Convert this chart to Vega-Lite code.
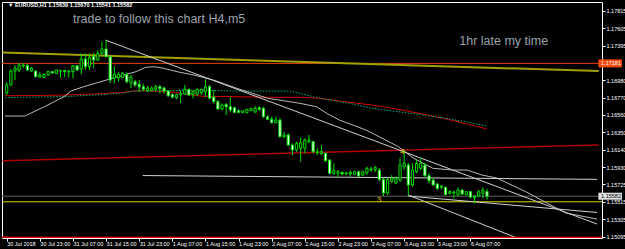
{
  "$schema": "https://vega.github.io/schema/vega-lite/v6.json",
  "width": 600,
  "height": 236,
  "autosize": "none",
  "padding": {"left": 2, "top": 2, "right": 23, "bottom": 11},
  "background": "black",
  "config": {
    "view": {"stroke": "#ffffff", "strokeWidth": 1, "fill": "black"},
    "axis": {"labelColor": "#ffffff", "tickColor": "#ffffff", "labelFont": "Liberation Sans", "labelFontSize": 5.5, "tickSize": 3, "domain": false, "grid": false, "labelOverlap": false, "labelBound": false, "labelFlush": false, "titleOpacity": 0}
  },
  "datasets": {
    "candles": [
      {"i":0,"o":1.16824,"h":1.16957,"l":1.16800,"c":1.16921},
      {"i":1,"o":1.16921,"h":1.17113,"l":1.16909,"c":1.17089},
      {"i":2,"o":1.17089,"h":1.17161,"l":1.16981,"c":1.17125},
      {"i":3,"o":1.17101,"h":1.17185,"l":1.17077,"c":1.17161},
      {"i":4,"o":1.17149,"h":1.17185,"l":1.17125,"c":1.17161},
      {"i":5,"o":1.17153,"h":1.17173,"l":1.17089,"c":1.17101},
      {"i":6,"o":1.17089,"h":1.17137,"l":1.17077,"c":1.17125},
      {"i":7,"o":1.17089,"h":1.17101,"l":1.17017,"c":1.17020},
      {"i":8,"o":1.17017,"h":1.17077,"l":1.17005,"c":1.17041},
      {"i":9,"o":1.17011,"h":1.17065,"l":1.17005,"c":1.17047},
      {"i":10,"o":1.17041,"h":1.17089,"l":1.17029,"c":1.17083},
      {"i":11,"o":1.17083,"h":1.17089,"l":1.17059,"c":1.17065},
      {"i":12,"o":1.17059,"h":1.17107,"l":1.17053,"c":1.17101},
      {"i":13,"o":1.17089,"h":1.17101,"l":1.17008,"c":1.17095},
      {"i":14,"o":1.17095,"h":1.17101,"l":1.17017,"c":1.17083},
      {"i":15,"o":1.17077,"h":1.17095,"l":1.17008,"c":1.17089},
      {"i":16,"o":1.17081,"h":1.17161,"l":1.17001,"c":1.17153},
      {"i":17,"o":1.17153,"h":1.17161,"l":1.17089,"c":1.17101},
      {"i":18,"o":1.17113,"h":1.17302,"l":1.17049,"c":1.17234},
      {"i":19,"o":1.17234,"h":1.17302,"l":1.17101,"c":1.17141},
      {"i":20,"o":1.17141,"h":1.17302,"l":1.17101,"c":1.17254},
      {"i":21,"o":1.17266,"h":1.17302,"l":1.17122,"c":1.17222},
      {"i":22,"o":1.17222,"h":1.17342,"l":1.17210,"c":1.17302},
      {"i":23,"o":1.17302,"h":1.17442,"l":1.17282,"c":1.17354},
      {"i":24,"o":1.17354,"h":1.17462,"l":1.17258,"c":1.17261},
      {"i":25,"o":1.17261,"h":1.17270,"l":1.16941,"c":1.16981},
      {"i":26,"o":1.17001,"h":1.17141,"l":1.16941,"c":1.17049},
      {"i":27,"o":1.17008,"h":1.17073,"l":1.16960,"c":1.17049},
      {"i":28,"o":1.17008,"h":1.17077,"l":1.17005,"c":1.17061},
      {"i":29,"o":1.17049,"h":1.17073,"l":1.16941,"c":1.16960},
      {"i":30,"o":1.16945,"h":1.17041,"l":1.16884,"c":1.17017},
      {"i":31,"o":1.16960,"h":1.16981,"l":1.16900,"c":1.16921},
      {"i":32,"o":1.16929,"h":1.16981,"l":1.16840,"c":1.16900},
      {"i":33,"o":1.16900,"h":1.16933,"l":1.16852,"c":1.16869},
      {"i":34,"o":1.16852,"h":1.16909,"l":1.16840,"c":1.16884},
      {"i":35,"o":1.16852,"h":1.16903,"l":1.16848,"c":1.16884},
      {"i":36,"o":1.16869,"h":1.16921,"l":1.16840,"c":1.16900},
      {"i":37,"o":1.16900,"h":1.16921,"l":1.16817,"c":1.16877},
      {"i":38,"o":1.16884,"h":1.16900,"l":1.16817,"c":1.16848},
      {"i":39,"o":1.16848,"h":1.16860,"l":1.16776,"c":1.16792},
      {"i":40,"o":1.16805,"h":1.16817,"l":1.16761,"c":1.16773},
      {"i":41,"o":1.16768,"h":1.16817,"l":1.16748,"c":1.16805},
      {"i":42,"o":1.16805,"h":1.16860,"l":1.16704,"c":1.16817},
      {"i":43,"o":1.16812,"h":1.16921,"l":1.16800,"c":1.16869},
      {"i":44,"o":1.16869,"h":1.16877,"l":1.16788,"c":1.16800},
      {"i":45,"o":1.16805,"h":1.16860,"l":1.16761,"c":1.16840},
      {"i":46,"o":1.16812,"h":1.16877,"l":1.16788,"c":1.16869},
      {"i":47,"o":1.16828,"h":1.16877,"l":1.16800,"c":1.16869},
      {"i":48,"o":1.16840,"h":1.16989,"l":1.16776,"c":1.16900},
      {"i":49,"o":1.16900,"h":1.16921,"l":1.16748,"c":1.16761},
      {"i":50,"o":1.16776,"h":1.16860,"l":1.16700,"c":1.16720},
      {"i":51,"o":1.16720,"h":1.16740,"l":1.16620,"c":1.16632},
      {"i":52,"o":1.16632,"h":1.16700,"l":1.16620,"c":1.16680},
      {"i":53,"o":1.16688,"h":1.16700,"l":1.16559,"c":1.16659},
      {"i":54,"o":1.16659,"h":1.16773,"l":1.16595,"c":1.16620},
      {"i":55,"o":1.16647,"h":1.16659,"l":1.16580,"c":1.16592},
      {"i":56,"o":1.16611,"h":1.16628,"l":1.16580,"c":1.16592},
      {"i":57,"o":1.16587,"h":1.16620,"l":1.16583,"c":1.16611},
      {"i":58,"o":1.16587,"h":1.16632,"l":1.16583,"c":1.16628},
      {"i":59,"o":1.16611,"h":1.16644,"l":1.16608,"c":1.16640},
      {"i":60,"o":1.16595,"h":1.16668,"l":1.16589,"c":1.16640},
      {"i":61,"o":1.16647,"h":1.16668,"l":1.16608,"c":1.16628},
      {"i":62,"o":1.16640,"h":1.16659,"l":1.16523,"c":1.16539},
      {"i":63,"o":1.16539,"h":1.16559,"l":1.16499,"c":1.16508},
      {"i":64,"o":1.16508,"h":1.16539,"l":1.16460,"c":1.16467},
      {"i":65,"o":1.16467,"h":1.16539,"l":1.16460,"c":1.16499},
      {"i":66,"o":1.16499,"h":1.16520,"l":1.16291,"c":1.16298},
      {"i":67,"o":1.16298,"h":1.16358,"l":1.16279,"c":1.16319},
      {"i":68,"o":1.16319,"h":1.16339,"l":1.16186,"c":1.16198},
      {"i":69,"o":1.16198,"h":1.16219,"l":1.16078,"c":1.16138},
      {"i":70,"o":1.16138,"h":1.16238,"l":1.16118,"c":1.16219},
      {"i":71,"o":1.16159,"h":1.16291,"l":1.15997,"c":1.16226},
      {"i":72,"o":1.16159,"h":1.16279,"l":1.16098,"c":1.16258},
      {"i":73,"o":1.16238,"h":1.16319,"l":1.16219,"c":1.16258},
      {"i":74,"o":1.16238,"h":1.16250,"l":1.16098,"c":1.16118},
      {"i":75,"o":1.16106,"h":1.16159,"l":1.16078,"c":1.16118},
      {"i":76,"o":1.16098,"h":1.16198,"l":1.16078,"c":1.16118},
      {"i":77,"o":1.16098,"h":1.16106,"l":1.15997,"c":1.16009},
      {"i":78,"o":1.16018,"h":1.16026,"l":1.15849,"c":1.15858},
      {"i":79,"o":1.15858,"h":1.15978,"l":1.15837,"c":1.15889},
      {"i":80,"o":1.15858,"h":1.15897,"l":1.15809,"c":1.15877},
      {"i":81,"o":1.15870,"h":1.15877,"l":1.15837,"c":1.15849},
      {"i":82,"o":1.15849,"h":1.15873,"l":1.15837,"c":1.15865},
      {"i":83,"o":1.15849,"h":1.15889,"l":1.15817,"c":1.15870},
      {"i":84,"o":1.15845,"h":1.15889,"l":1.15837,"c":1.15877},
      {"i":85,"o":1.15877,"h":1.15889,"l":1.15817,"c":1.15825},
      {"i":86,"o":1.15837,"h":1.15889,"l":1.15825,"c":1.15877},
      {"i":87,"o":1.15865,"h":1.15937,"l":1.15837,"c":1.15918},
      {"i":88,"o":1.15897,"h":1.15937,"l":1.15877,"c":1.15909},
      {"i":89,"o":1.15903,"h":1.15945,"l":1.15873,"c":1.15927},
      {"i":90,"o":1.15897,"h":1.15921,"l":1.15761,"c":1.15785},
      {"i":91,"o":1.15785,"h":1.15801,"l":1.15584,"c":1.15620},
      {"i":92,"o":1.15620,"h":1.15801,"l":1.15596,"c":1.15785},
      {"i":93,"o":1.15761,"h":1.15837,"l":1.15741,"c":1.15801},
      {"i":94,"o":1.15741,"h":1.15817,"l":1.15729,"c":1.15801},
      {"i":95,"o":1.15777,"h":1.16038,"l":1.15753,"c":1.15958},
      {"i":96,"o":1.15937,"h":1.16138,"l":1.15897,"c":1.15982},
      {"i":97,"o":1.15958,"h":1.15982,"l":1.15596,"c":1.15717},
      {"i":98,"o":1.15717,"h":1.15978,"l":1.15696,"c":1.15897},
      {"i":99,"o":1.15877,"h":1.16026,"l":1.15858,"c":1.15978},
      {"i":100,"o":1.15918,"h":1.16038,"l":1.15897,"c":1.15978},
      {"i":101,"o":1.15958,"h":1.15978,"l":1.15817,"c":1.15829},
      {"i":102,"o":1.15829,"h":1.15858,"l":1.15737,"c":1.15768},
      {"i":103,"o":1.15777,"h":1.15797,"l":1.15708,"c":1.15717},
      {"i":104,"o":1.15729,"h":1.15744,"l":1.15657,"c":1.15677},
      {"i":105,"o":1.15689,"h":1.15717,"l":1.15665,"c":1.15705},
      {"i":106,"o":1.15689,"h":1.15696,"l":1.15596,"c":1.15601},
      {"i":107,"o":1.15617,"h":1.15657,"l":1.15601,"c":1.15636},
      {"i":108,"o":1.15620,"h":1.15648,"l":1.15557,"c":1.15633},
      {"i":109,"o":1.15596,"h":1.15689,"l":1.15588,"c":1.15657},
      {"i":110,"o":1.15657,"h":1.15665,"l":1.15596,"c":1.15608},
      {"i":111,"o":1.15601,"h":1.15644,"l":1.15596,"c":1.15636},
      {"i":112,"o":1.15636,"h":1.15644,"l":1.15557,"c":1.15572},
      {"i":113,"o":1.15565,"h":1.15596,"l":1.15496,"c":1.15584},
      {"i":114,"o":1.15584,"h":1.15657,"l":1.15572,"c":1.15636},
      {"i":115,"o":1.15617,"h":1.15689,"l":1.15557,"c":1.15657},
      {"i":116,"o":1.15639,"h":1.15670,"l":1.15541,"c":1.15582}
    ],
    "lines": [
      {"s":"olive","i":-1,"p":1.17313},{"s":"olive","i":143,"p":1.17088},
      {"s":"darkred","i":-1,"p":1.16010},{"s":"darkred","i":143,"p":1.16198},
      {"s":"red","i":-0.4,"p":1.16792},{"s":"red","i":6.72,"p":1.16794},{"s":"red","i":13.85,"p":1.16800},{"s":"red","i":20.97,"p":1.16812},{"s":"red","i":28.10,"p":1.16830},{"s":"red","i":30.47,"p":1.16848},{"s":"red","i":32.85,"p":1.16852},{"s":"red","i":38.79,"p":1.16840},{"s":"red","i":42.35,"p":1.16821},{"s":"red","i":47.10,"p":1.16785},{"s":"red","i":54.94,"p":1.16780},{"s":"red","i":63.74,"p":1.16773},{"s":"red","i":70.86,"p":1.16773},{"s":"red","i":75.61,"p":1.16761},{"s":"red","i":81.55,"p":1.16720},{"s":"red","i":88.19,"p":1.16680},{"s":"red","i":94.61,"p":1.16628},{"s":"red","i":104.11,"p":1.16535},{"s":"red","i":111.24,"p":1.16451},{"s":"red","i":115.99,"p":1.16391},
      {"s":"green","i":-0.4,"p":1.16768},{"s":"green","i":6.72,"p":1.16776},{"s":"green","i":13.85,"p":1.16780},{"s":"green","i":20.97,"p":1.16800},{"s":"green","i":28.10,"p":1.16824},{"s":"green","i":30.47,"p":1.16848},{"s":"green","i":37.60,"p":1.16852},{"s":"green","i":47.10,"p":1.16857},{"s":"green","i":56.60,"p":1.16848},{"s":"green","i":68.48,"p":1.16848},{"s":"green","i":75.61,"p":1.16761},{"s":"green","i":82.73,"p":1.16700},{"s":"green","i":88.19,"p":1.16640},{"s":"green","i":94.61,"p":1.16599},{"s":"green","i":104.11,"p":1.16535},{"s":"green","i":111.24,"p":1.16475},{"s":"green","i":115.99,"p":1.16427},
      {"s":"gray","i":-0.4,"p":1.16547},{"s":"gray","i":4.35,"p":1.16547},{"s":"gray","i":9.10,"p":1.16659},{"s":"gray","i":13.85,"p":1.16780},{"s":"gray","i":15.51,"p":1.16848},{"s":"gray","i":18.60,"p":1.16900},{"s":"gray","i":25.72,"p":1.17005},{"s":"gray","i":31.19,"p":1.17081},{"s":"gray","i":33.56,"p":1.17134},{"s":"gray","i":35.70,"p":1.17141},{"s":"gray","i":37.60,"p":1.17125},{"s":"gray","i":41.16,"p":1.17081},{"s":"gray","i":45.20,"p":1.17041},{"s":"gray","i":49.95,"p":1.16981},{"s":"gray","i":55.42,"p":1.16884},{"s":"gray","i":63.02,"p":1.16761},{"s":"gray","i":70.86,"p":1.16700},{"s":"gray","i":74.89,"p":1.16659},{"s":"gray","i":77.28,"p":1.16580},{"s":"gray","i":80.36,"p":1.16499},{"s":"gray","i":86.77,"p":1.16379},{"s":"gray","i":91.52,"p":1.16258},{"s":"gray","i":94.61,"p":1.16178},{"s":"gray","i":98.17,"p":1.16042},{"s":"gray","i":102.92,"p":1.15918},{"s":"gray","i":107.67,"p":1.15897},{"s":"gray","i":111.24,"p":1.15897},{"s":"gray","i":114.80,"p":1.15837},{"s":"gray","i":118.36,"p":1.15801},{"s":"gray","i":125.49,"p":1.15633},{"s":"gray","i":134.99,"p":1.15380},{"s":"gray","i":142.59,"p":1.15307},
      {"s":"A","i":23.82,"p":1.17462},{"s":"A","i":142.59,"p":1.15247},
      {"s":"D","i":96.99,"p":1.15596},{"s":"D","i":122.64,"p":1.15091},
      {"s":"C","i":96.99,"p":1.15584},{"s":"C","i":142.59,"p":1.15386},
      {"s":"E","i":32.85,"p":1.15831},{"s":"E","i":142.59,"p":1.15785}
    ],
    "hlines": [
      {"s":"orange","p":1.17181},
      {"s":"price","p":1.15582},
      {"s":"yellow","p":1.15515},
      {"s":"bottom","p":1.15087}
    ],
    "notes": [
      {"s":"big","t":"trade to follow this chart H4,m5","i":16.0,"p":1.17667},
      {"s":"big","t":"1hr late my time","i":109.3,"p":1.17402},
      {"s":"hdr","t":"▼ EURUSD,H1  1.15639 1.15670 1.15541 1.15582","i":0.3,"p":1.17856},
      {"s":"zz","t":"4","i":95.5,"p":1.16114},
      {"s":"zz","t":"3","i":89.9,"p":1.15542}
    ],
    "tags": [
      {"t":"1.17181","p":1.17181,"bg":"orange"},
      {"t":"1.15582","p":1.15582,"bg":"white"}
    ]
  },
  "layer": [
    {
      "data": {"name": "candles"},
      "mark": {"type": "point", "opacity": 0},
      "encoding": {
        "x": {"field": "i", "type": "quantitative", "scale": {"domain": [0.07, 142.57], "nice": false, "zero": false},
          "axis": {"orient": "bottom", "title": null, "tickCount": 40, "values": [0,8,16,24,32,40,48,56,64,72,80,88,96,104,112], "labelExpr": "['30 Jul 2018','30 Jul 23:00','31 Jul 07:00','31 Jul 15:00','31 Jul 23:00','1 Aug 07:00','1 Aug 15:00','1 Aug 23:00','2 Aug 07:00','2 Aug 15:00','2 Aug 23:00','3 Aug 07:00','3 Aug 15:00','3 Aug 23:00','6 Aug 07:00'][round(datum.value / 8)]", "labelAlign": "left", "labelPadding": 0, "labelOverlap": false, "labelBound": false, "labelFlush": false}},
        "y": {"field": "c", "type": "quantitative", "scale": {"domain": [1.15079, 1.1792], "nice": false, "zero": false},
          "axis": {"orient": "right", "title": null, "tickCount": 40, "values": [1.17815,1.17605,1.17395,1.1698,1.1677,1.1656,1.1635,1.1614,1.1593,1.15725,1.15515,1.15305,1.15095], "format": ".5f", "labelPadding": 1, "labelOverlap": false, "labelBound": false, "labelFlush": false}}
      }
    },
    {
      "data": {"name": "hlines"},
      "transform": [{"filter": "datum.s == 'orange'"}],
      "mark": {"type": "rule", "color": "#e8400c", "strokeWidth": 1},
      "encoding": {"y": {"field": "p", "type": "quantitative"}}
    },
    {
      "data": {"name": "hlines"},
      "transform": [{"filter": "datum.s == 'price'"}],
      "mark": {"type": "rule", "color": "#606060", "strokeWidth": 1},
      "encoding": {"y": {"field": "p", "type": "quantitative"}}
    },
    {
      "data": {"name": "hlines"},
      "transform": [{"filter": "datum.s == 'yellow'"}],
      "mark": {"type": "rule", "color": "#d8d800", "strokeWidth": 1},
      "encoding": {"y": {"field": "p", "type": "quantitative"}}
    },
    {
      "data": {"name": "hlines"},
      "transform": [{"filter": "datum.s == 'bottom'"}],
      "mark": {"type": "rule", "color": "#d00000", "strokeWidth": 1.5},
      "encoding": {"y": {"field": "p", "type": "quantitative"}}
    },
    {
      "data": {"name": "lines"},
      "transform": [{"filter": "datum.s == 'olive'"}],
      "mark": {"type": "line", "color": "#a0a000", "strokeWidth": 2, "clip": true},
      "encoding": {
        "x": {"field": "i", "type": "quantitative"},
        "y": {"field": "p", "type": "quantitative"}
      }
    },
    {
      "data": {"name": "lines"},
      "transform": [{"filter": "datum.s == 'darkred'"}],
      "mark": {"type": "line", "color": "#b00000", "strokeWidth": 1.5, "clip": true},
      "encoding": {
        "x": {"field": "i", "type": "quantitative"},
        "y": {"field": "p", "type": "quantitative"}
      }
    },
    {
      "data": {"name": "lines"},
      "transform": [{"filter": "datum.s == 'red'"}],
      "mark": {"type": "line", "color": "#d00000", "strokeWidth": 1, "clip": true},
      "encoding": {
        "x": {"field": "i", "type": "quantitative"},
        "y": {"field": "p", "type": "quantitative"}
      }
    },
    {
      "data": {"name": "lines"},
      "transform": [{"filter": "datum.s == 'green'"}],
      "mark": {"type": "line", "color": "#00b080", "strokeWidth": 1, "strokeDash": [1.5, 1.5], "clip": true},
      "encoding": {
        "x": {"field": "i", "type": "quantitative"},
        "y": {"field": "p", "type": "quantitative"}
      }
    },
    {
      "data": {"name": "lines"},
      "transform": [{"filter": "datum.s == 'gray'"}],
      "mark": {"type": "line", "color": "#b8b8b8", "strokeWidth": 1, "clip": true},
      "encoding": {
        "x": {"field": "i", "type": "quantitative"},
        "y": {"field": "p", "type": "quantitative"}
      }
    },
    {
      "data": {"name": "lines"},
      "transform": [{"filter": "datum.s == 'A' || datum.s == 'C' || datum.s == 'D' || datum.s == 'E'"}],
      "mark": {"type": "line", "color": "#d0d0d0", "strokeWidth": 1, "clip": true},
      "encoding": {
        "x": {"field": "i", "type": "quantitative"},
        "y": {"field": "p", "type": "quantitative"},
        "detail": {"field": "s"}
      }
    },
    {
      "data": {"name": "candles"},
      "mark": {"type": "rule", "color": "#00e000", "strokeWidth": 1, "clip": true},
      "encoding": {
        "x": {"field": "i", "type": "quantitative"},
        "y": {"field": "l", "type": "quantitative"},
        "y2": {"field": "h"}
      }
    },
    {
      "data": {"name": "candles"},
      "mark": {"type": "bar", "size": 2.2, "stroke": "#00e000", "strokeWidth": 1, "clip": true},
      "encoding": {
        "x": {"field": "i", "type": "quantitative"},
        "y": {"field": "o", "type": "quantitative"},
        "y2": {"field": "c"},
        "fill": {"condition": {"test": "datum.c < datum.o", "value": "#ffffff"}, "value": "#000000"}
      }
    },
    {
      "data": {"name": "notes"},
      "transform": [{"filter": "datum.s == 'big'"}],
      "mark": {"type": "text", "align": "left", "baseline": "alphabetic", "font": "Liberation Sans", "fontSize": 12.5, "color": "#9aa2aa"},
      "encoding": {
        "x": {"field": "i", "type": "quantitative"},
        "y": {"field": "p", "type": "quantitative"},
        "text": {"field": "t"}
      }
    },
    {
      "data": {"name": "notes"},
      "transform": [{"filter": "datum.s == 'hdr'"}],
      "mark": {"type": "text", "align": "left", "baseline": "alphabetic", "font": "Liberation Sans", "fontSize": 5.5, "fontWeight": "bold", "color": "#ffffff"},
      "encoding": {
        "x": {"field": "i", "type": "quantitative"},
        "y": {"field": "p", "type": "quantitative"},
        "text": {"field": "t"}
      }
    },
    {
      "data": {"name": "notes"},
      "transform": [{"filter": "datum.s == 'zz'"}],
      "mark": {"type": "text", "align": "center", "baseline": "middle", "font": "Liberation Sans", "fontSize": 8, "color": "#e8c000"},
      "encoding": {
        "x": {"field": "i", "type": "quantitative"},
        "y": {"field": "p", "type": "quantitative"},
        "text": {"field": "t"}
      }
    },
    {
      "data": {"name": "tags"},
      "transform": [{"filter": "datum.bg == 'orange'"}],
      "mark": {"type": "rect", "color": "#f04a10", "height": 8},
      "encoding": {
        "x": {"datum": 142.9, "type": "quantitative"},
        "x2": {"datum": 148.6},
        "y": {"field": "p", "type": "quantitative"}
      }
    },
    {
      "data": {"name": "tags"},
      "transform": [{"filter": "datum.bg == 'white'"}],
      "mark": {"type": "rect", "color": "#e0e0e0", "height": 7},
      "encoding": {
        "x": {"datum": 142.9, "type": "quantitative"},
        "x2": {"datum": 148.6},
        "y": {"field": "p", "type": "quantitative"}
      }
    },
    {
      "data": {"name": "tags"},
      "mark": {"type": "text", "align": "left", "baseline": "middle", "font": "Liberation Sans", "fontSize": 5.5},
      "encoding": {
        "x": {"datum": 143.55, "type": "quantitative"},
        "y": {"field": "p", "type": "quantitative"},
        "text": {"field": "t"},
        "color": {"condition": {"test": "datum.bg == 'orange'", "value": "#ffffff"}, "value": "#000000"}
      }
    }
  ]
}
